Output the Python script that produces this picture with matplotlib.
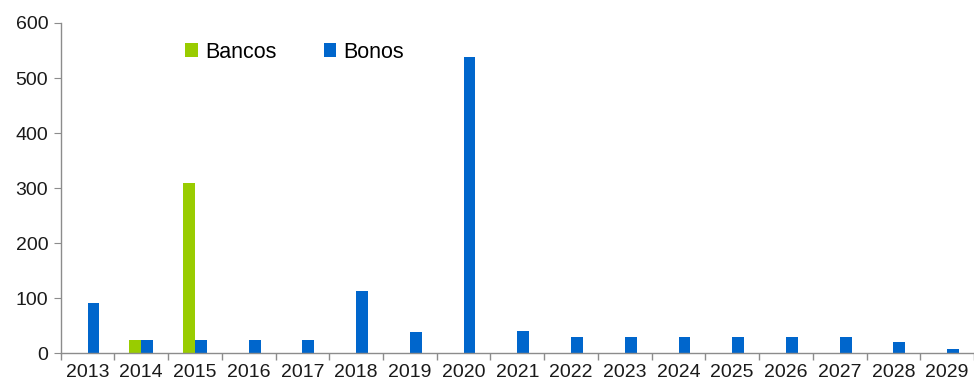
import numpy as np
import matplotlib
matplotlib.use("Agg")
import matplotlib.pyplot as plt

plt.rcParams["font.family"] = ["Liberation Sans", "DejaVu Sans"]

years = ["2013", "2014", "2015", "2016", "2017", "2018", "2019", "2020", "2021",
         "2022", "2023", "2024", "2025", "2026", "2027", "2028", "2029"]
bancos = [0, 24, 310, 0, 0, 0, 0, 0, 0, 0, 0, 0, 0, 0, 0, 0, 0]
bonos = [92, 24, 25, 25, 25, 113, 39, 539, 40, 30, 30, 30, 30, 30, 30, 21, 7]

green = "#99CC00"
blue = "#0066CC"
axis_grey = "#8c8c8c"

fig = plt.figure(figsize=(9.74, 3.83), dpi=100)
ax = fig.add_axes([0.0623, 0.0775, 0.9377, 0.8625])

x = np.arange(len(years))
w = 0.22
ax.bar(x - w / 2, bancos, w, color=green, label="Bancos")
ax.bar(x + w / 2, bonos, w, color=blue, label="Bonos")

ax.set_ylim(0, 600)
ax.set_xlim(-0.5, len(years) - 0.55)
ax.set_yticks(range(0, 601, 100))

ax.set_xticks(x)
ax.set_xticklabels(years)
ax.set_xticks(np.arange(len(years) + 1) - 0.5, minor=True)
ax.tick_params(axis="x", which="major", length=0, pad=8, labelsize=14, colors="#1a1a1a")
ax.tick_params(axis="x", which="minor", length=5, color=axis_grey, width=1)
ax.tick_params(axis="y", length=5, color=axis_grey, labelsize=14, labelcolor="#1a1a1a", pad=4)

for side in ["top", "right"]:
    ax.spines[side].set_visible(False)
for side in ["left", "bottom"]:
    ax.spines[side].set_color(axis_grey)
    ax.spines[side].set_linewidth(1)

ax.legend(loc="center", bbox_to_anchor=(0.256, 0.912), ncol=2, frameon=False,
          fontsize=15.5, handlelength=0.6, handleheight=0.6, handletextpad=0.3,
          columnspacing=2.2)

fig.savefig("out.png", dpi=100)
